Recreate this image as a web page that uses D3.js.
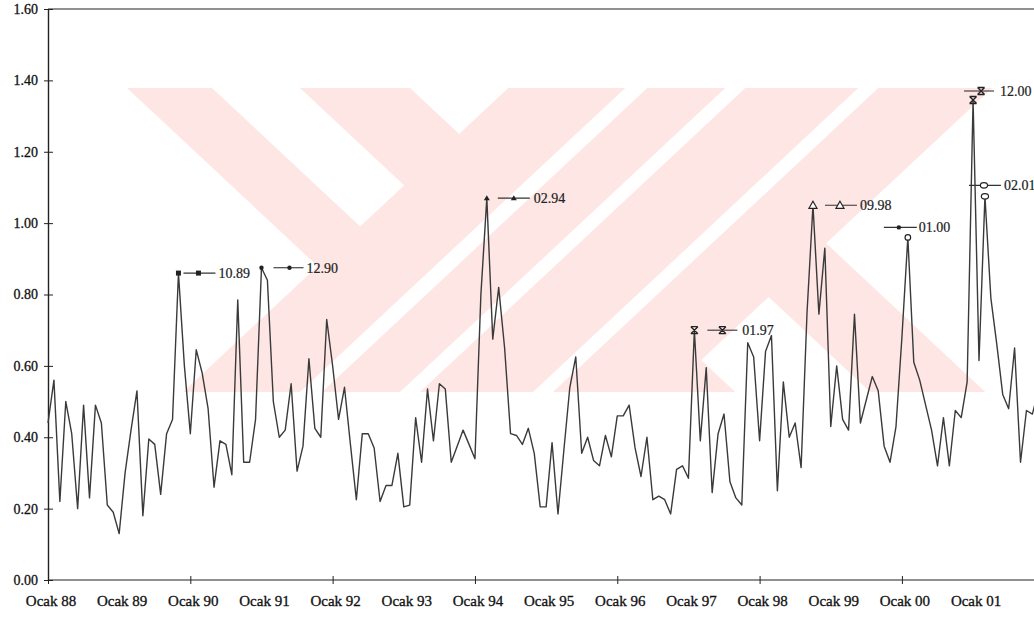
<!DOCTYPE html>
<html>
<head>
<meta charset="utf-8">
<script src="https://cdn.jsdelivr.net/npm/d3@7"></script>
<style>
  html, body { margin: 0; padding: 0; background: #ffffff; }
  svg { display: block; }
</style>
</head>
<body>
<svg id="chart" width="1034" height="617"></svg>
<script>
// Month axis labels, one per January
const yearLabels = ["Ocak 88", "Ocak 89", "Ocak 90", "Ocak 91", "Ocak 92", "Ocak 93", "Ocak 94",
                    "Ocak 95", "Ocak 96", "Ocak 97", "Ocak 98", "Ocak 99", "Ocak 00", "Ocak 01"];

// Value axis ticks
const yTickValues = [0.00, 0.20, 0.40, 0.60, 0.80, 1.00, 1.20, 1.40, 1.60];

// Monthly series; the first value sits on the "Ocak 88" tick
const rate = [
  0.44, 0.56, 0.22, 0.50, 0.41, 0.20, 0.49, 0.23, 0.49, 0.44, 0.21, 0.19,
  0.13, 0.30, 0.42, 0.53, 0.18, 0.395, 0.38, 0.24, 0.41, 0.45, 0.86, 0.60,
  0.41, 0.645, 0.58, 0.48, 0.26, 0.39, 0.38, 0.295, 0.785, 0.33, 0.33, 0.45,
  0.875, 0.84, 0.50, 0.40, 0.42, 0.55, 0.305, 0.375, 0.62, 0.425, 0.40, 0.73,
  0.60, 0.45, 0.54, 0.38, 0.225, 0.41, 0.41, 0.37, 0.22, 0.265, 0.265, 0.355,
  0.205, 0.21, 0.455, 0.33, 0.535, 0.39, 0.55, 0.535, 0.33, 0.375, 0.42, 0.38,
  0.34, 0.80, 1.07, 0.675, 0.82, 0.65, 0.41, 0.405, 0.38, 0.425, 0.355, 0.205,
  0.205, 0.385, 0.185, 0.365, 0.54, 0.625, 0.355, 0.40, 0.335, 0.32, 0.405, 0.345,
  0.46, 0.46, 0.49, 0.37, 0.29, 0.40, 0.225, 0.235, 0.225, 0.185, 0.31, 0.32,
  0.285, 0.70, 0.39, 0.595, 0.245, 0.41, 0.465, 0.275, 0.23, 0.21, 0.665, 0.625,
  0.39, 0.64, 0.685, 0.25, 0.555, 0.40, 0.44, 0.315, 0.75, 1.05, 0.745, 0.93,
  0.43, 0.60, 0.45, 0.42, 0.745, 0.44, 0.505, 0.57, 0.53, 0.375, 0.33, 0.43,
  0.68, 0.96, 0.61, 0.56, 0.49, 0.42, 0.32, 0.455, 0.32, 0.475, 0.455, 0.555,
  1.345, 0.615, 1.075, 0.79, 0.66, 0.52, 0.48, 0.65, 0.33, 0.475, 0.465, 0.53
];

// Labelled peaks (month.year) and the marker each one uses
const peakLabels  = ["10.89", "12.90", "02.94", "01.97", "09.98", "01.00", "12.00", "02.01"];
const peakMarkers = ["square", "dot", "triangle", "star", "triangleOpen", "ring", "star", "ringWide"];

// ---------------------------------------------------------------------------
const W = 1034, H = 617;
const margin = { left: 48, top: 9, bottom: 37 };
const monthStep = 5.93;
const nMonths = 168;
const serif = "'Liberation Serif', 'Times New Roman', serif";

const svg = d3.select("#chart");

const x = d3.scaleLinear()
  .domain([0, nMonths])
  .range([margin.left, margin.left + nMonths * monthStep]);

const y = d3.scaleLinear()
  .domain([0, 1.6])
  .range([H - margin.bottom, margin.top]);

// Faint striped emblem behind the plot
const embTop = 88, embBottom = 392, lean = 1.07;
const embH = embBottom - embTop;
// "\" band from its top edge span
const backBand = ([a, b]) => [[a, embTop], [b, embTop], [b + lean * embH, embBottom], [a + lean * embH, embBottom]];
// "/" band from its bottom edge span
const fwdBand = ([a, b]) => [[a, embBottom], [b, embBottom], [b + lean * embH, embTop], [a + lean * embH, embTop]];

const emblemPink = [
  backBand([127, 212]),
  backBand([300, 410]),
  backBand([545, 660]),
  fwdBand([183, 667])
];
const emblemGaps = [
  fwdBand([300, 322]),
  fwdBand([400, 420]),
  fwdBand([533, 553])
];

const emblem = svg.append("g");
emblem.selectAll("polygon.pink")
  .data(emblemPink)
  .join("polygon")
  .attr("class", "pink")
  .attr("fill", "#fde6e4")
  .attr("points", d => d.map(p => p.join(",")).join(" "));
emblem.selectAll("polygon.gap")
  .data(emblemGaps)
  .join("polygon")
  .attr("class", "gap")
  .attr("fill", "#ffffff")
  .attr("points", d => d.map(p => p.join(",")).join(" "));

// Axes frame
const axisColor = "#222";
svg.append("line")
  .attr("x1", x(0)).attr("x2", W)
  .attr("y1", y(1.6)).attr("y2", y(1.6))
  .attr("stroke", axisColor).attr("stroke-width", 1.2);

const yAxis = d3.axisLeft(y)
  .tickValues(yTickValues)
  .tickFormat(d3.format(".2f"))
  .tickSizeInner(4)
  .tickSizeOuter(0);

const gy = svg.append("g")
  .attr("transform", `translate(${x(0)},0)`)
  .call(yAxis);
gy.select(".domain").attr("stroke", axisColor).attr("stroke-width", 1.4);
gy.selectAll(".tick line").attr("stroke", axisColor).attr("x2", 5).attr("x1", -4);
gy.selectAll(".tick text")
  .attr("x", -10)
  .attr("font-family", serif)
  .attr("font-size", 14)
  .attr("fill", "#111")
  .attr("stroke", "#111").attr("stroke-width", 0.3);

const xAxis = d3.axisBottom(x)
  .tickValues(d3.range(0, nMonths + 1, 24))
  .tickFormat("")
  .tickSizeInner(4)
  .tickSizeOuter(0);

const gx = svg.append("g")
  .attr("transform", `translate(0,${y(0)})`)
  .call(xAxis);
gx.select(".domain").attr("stroke", axisColor).attr("stroke-width", 1.2)
  .attr("d", `M${x(0)},0H${W}`);
gx.selectAll(".tick line").attr("stroke", axisColor).attr("y1", -4).attr("y2", 4);

svg.append("g")
  .selectAll("text")
  .data(yearLabels)
  .join("text")
  .attr("x", (d, i) => x(i * 12) + 3)
  .attr("y", y(0) + 26)
  .attr("text-anchor", "middle")
  .attr("font-family", serif)
  .attr("font-size", 15)
  .attr("fill", "#111")
  .attr("stroke", "#111").attr("stroke-width", 0.3)
  .text(d => d);

// Series line
const line = d3.line()
  .x((d, i) => x(i))
  .y(d => y(d));

svg.append("path")
  .datum(rate)
  .attr("d", line)
  .attr("fill", "none")
  .attr("stroke", "#3a3a3a")
  .attr("stroke-width", 1.4)
  .attr("stroke-linejoin", "round");

// Peak markers and their keyed labels
function monthIndex(label) {
  const [mm, yy] = label.split(".").map(Number);
  const year = yy < 50 ? 2000 + yy : 1900 + yy;
  return (year - 1988) * 12 + mm;
}

function drawMarker(g, kind, cx, cy) {
  const c = "#222";
  if (kind === "square") {
    g.append("rect").attr("x", cx - 2.5).attr("y", cy - 2.5).attr("width", 5).attr("height", 5).attr("fill", c);
  } else if (kind === "dot") {
    g.append("circle").attr("cx", cx).attr("cy", cy).attr("r", 2.2).attr("fill", c);
  } else if (kind === "triangle") {
    g.append("path").attr("d", `M${cx},${cy - 3}L${cx + 3},${cy + 2}L${cx - 3},${cy + 2}Z`).attr("fill", c);
  } else if (kind === "triangleOpen") {
    g.append("path").attr("d", `M${cx},${cy - 4}L${cx + 4},${cy + 3}L${cx - 4},${cy + 3}Z`)
      .attr("fill", "#fff").attr("stroke", c).attr("stroke-width", 1.2);
  } else if (kind === "star") {
    g.append("path")
      .attr("d", `M${cx - 3.5},${cy - 3.5}L${cx + 3.5},${cy + 3.5}M${cx + 3.5},${cy - 3.5}L${cx - 3.5},${cy + 3.5}` +
                 `M${cx - 3.5},${cy - 3.5}H${cx + 3.5}M${cx - 3.5},${cy + 3.5}H${cx + 3.5}`)
      .attr("stroke", c).attr("stroke-width", 1.3).attr("fill", "none");
  } else if (kind === "ring") {
    g.append("circle").attr("cx", cx).attr("cy", cy).attr("r", 2.8)
      .attr("fill", "#fff").attr("stroke", c).attr("stroke-width", 1.2);
  } else if (kind === "ringWide") {
    g.append("ellipse").attr("cx", cx).attr("cy", cy).attr("rx", 3.6).attr("ry", 2.8)
      .attr("fill", "#fff").attr("stroke", c).attr("stroke-width", 1.2);
  }
}

// key placement relative to each peak: [keyStart, keyEnd, keyMarker, textX, dy]
const keyPlacement = {
  "10.89": [5, 37, 20, 40, 0],
  "12.90": [12, 42, 28, 45, 0],
  "02.94": [11, 43, 27, 47, 0],
  "01.97": [13, 43, 28, 48, 0],
  "09.98": [12, 44, 27, 47, 0],
  "01.00": [-24, 9, -9, 11, -10],
  "12.00": [-9, 21, 8, 27, -9],
  "02.01": [-16, 16, -1, 19, -11]
};

const notes = svg.append("g");
peakLabels.forEach((lab, k) => {
  const idx = monthIndex(lab);
  const px = x(idx), py = y(rate[idx]);
  const [k0, k1, km, tx, dy] = keyPlacement[lab];
  const ky = py + dy;
  const g = notes.append("g");
  g.append("line")
    .attr("x1", px + k0).attr("x2", px + k1)
    .attr("y1", ky).attr("y2", ky)
    .attr("stroke", "#333").attr("stroke-width", 1.1);
  const keyKind = peakMarkers[k] === "ring" ? "dot" : peakMarkers[k];
  drawMarker(g, keyKind, px + km, ky);
  drawMarker(g, peakMarkers[k], px, py);
  g.append("text")
    .attr("x", px + tx).attr("y", ky)
    .attr("dy", "0.35em")
    .attr("font-family", serif)
    .attr("font-size", 14)
    .attr("fill", "#222")
    .attr("stroke", "#222").attr("stroke-width", 0.2)
    .text(lab);
});
</script>
</body>
</html>
